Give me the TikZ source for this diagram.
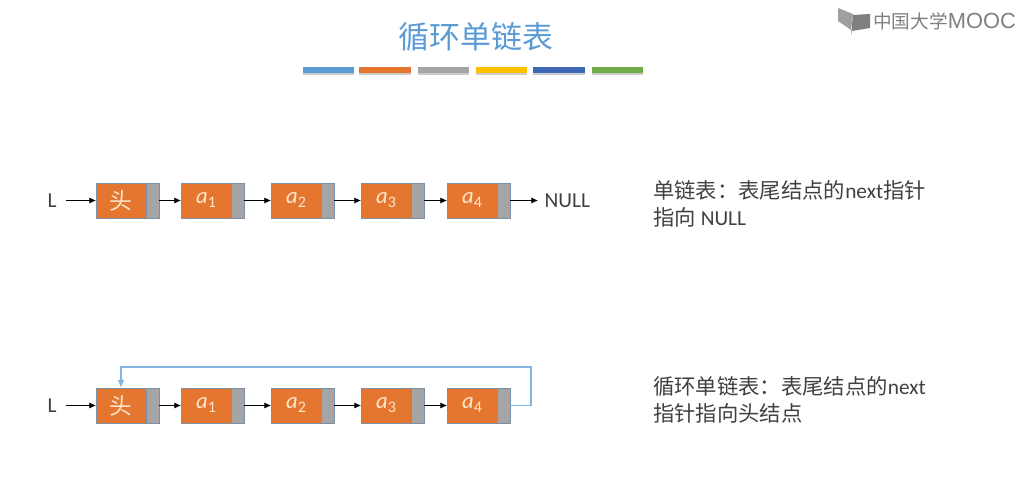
\documentclass[tikz,border=0pt]{standalone}
\usepackage{fontspec}
\setmainfont{Carlito}
\newfontfamily\cjk{Noto Sans CJK SC}
\newfontfamily\logofont{Liberation Sans}
\usetikzlibrary{arrows.meta,positioning,shadows}
\definecolor{nodeorange}{HTML}{E5762F}
\definecolor{ptrgray}{HTML}{A5A5A5}
\definecolor{edgeblue}{HTML}{7C8FA6}
\definecolor{titleblue}{HTML}{5B9BD5}
\definecolor{textgray}{HTML}{404040}
\definecolor{logogray}{HTML}{7F7F7F}
\definecolor{baryellow}{HTML}{FFC000}
\definecolor{barblue}{HTML}{4068B4}
\definecolor{bargreen}{HTML}{70AD47}
\newcommand{\elem}[1]{{\itshape a}\raisebox{-3pt}{\fontsize{12}{12}\selectfont #1}}
\tikzset{
  databox/.style={draw=edgeblue,fill=nodeorange,text=orange!20!white,minimum width=37.5pt,minimum height=26.25pt,inner sep=0pt,outer sep=0pt,font=\fontsize{17}{17}\selectfont},
  ptrbox/.style={draw=edgeblue,fill=ptrgray,minimum width=9.75pt,minimum height=26.25pt,inner sep=0pt,outer sep=0pt},
  nextarrow/.style={-{Latex[length=5pt,width=4.5pt]},black,line width=0.6pt},
  looparrow/.style={-{Latex[length=6pt,width=5pt]},titleblue!75,line width=0.8pt},
  plaintext/.style={text=textgray,inner sep=0pt,align=left,font=\fontsize{16}{20}\selectfont},
  colorbar/.style={minimum height=4.2pt,inner sep=0pt,outer sep=0pt,drop shadow={shadow xshift=0pt,shadow yshift=-1.5pt,opacity=.4}}
}
\begin{document}
\begin{tikzpicture}[>=latex,x=0.75pt,y=-0.75pt]
\useasboundingbox (0,0) rectangle (1021,491);

% title and bars
\node (title) at (476,37) [text=titleblue,inner sep=0pt,font=\cjk\fontsize{23.2}{24}\selectfont] {循环单链表};
\node (bar1) at (328.5,70) [colorbar,fill=titleblue,minimum width=38.25pt] {};
\node (bar2) [colorbar,fill=nodeorange,minimum width=39pt,right=3.75pt of bar1] {};
\node (bar3) [colorbar,fill=ptrgray,minimum width=38.25pt,right=5.25pt of bar2] {};
\node (bar4) [colorbar,fill=baryellow,minimum width=38.25pt,right=5.25pt of bar3] {};
\node (bar5) [colorbar,fill=barblue,minimum width=39pt,right=4.5pt of bar4] {};
\node (bar6) [colorbar,fill=bargreen,minimum width=38.25pt,right=5.25pt of bar5] {};

% logo
\fill[logogray!75] (838,8) -- (853,14) -- (851,30) -- (838,21) -- cycle;
\fill[logogray] (853,15) -- (870,14) -- (870,28) -- (852,31) -- (851,35) -- cycle;
\node (logo) at (873,21) [anchor=west,inner sep=0pt,text=logogray,font=\fontsize{14}{14}\selectfont] {{\cjk 中国大学}{\logofont\fontsize{16.4}{16}\selectfont MOOC}};

% upper list
\node (L1) at (52,200.5) [plaintext] {L};
\node (head1) at (121,200.5) [databox] {\cjk 头};
\node (hptr1) [ptrbox,right=0pt of head1] {};
\node (a1) [databox,right=16.5pt of hptr1] {\elem{1}};
\node (aptr1) [ptrbox,right=0pt of a1] {};
\node (a2) [databox,right=20.25pt of aptr1] {\elem{2}};
\node (aptr2) [ptrbox,right=0pt of a2] {};
\node (a3) [databox,right=20.25pt of aptr2] {\elem{3}};
\node (aptr3) [ptrbox,right=0pt of a3] {};
\node (a4) [databox,right=17.25pt of aptr3] {\elem{4}};
\node (aptr4) [ptrbox,right=0pt of a4] {};
\node (null) at (538,200.5) [plaintext,anchor=west,outer sep=5pt] {NULL};

\draw[nextarrow] (L1.east)+(9,0) -- (head1);
\draw[nextarrow] (hptr1) -- (a1);
\draw[nextarrow] (aptr1) -- (a2);
\draw[nextarrow] (aptr2) -- (a3);
\draw[nextarrow] (aptr3) -- (a4);
\draw[nextarrow] (aptr4) -- (null);

\node (note1) at (653,204) [plaintext,anchor=west] {{\cjk 单链表：表尾结点的}next{\cjk 指针}\\{\cjk 指向} NULL};

% lower list
\node (L2) at (52,405.5) [plaintext] {L};
\node (head2) at (121,405.5) [databox] {\cjk 头};
\node (hptr2) [ptrbox,right=0pt of head2] {};
\node (b1) [databox,right=16.5pt of hptr2] {\elem{1}};
\node (bptr1) [ptrbox,right=0pt of b1] {};
\node (b2) [databox,right=20.25pt of bptr1] {\elem{2}};
\node (bptr2) [ptrbox,right=0pt of b2] {};
\node (b3) [databox,right=20.25pt of bptr2] {\elem{3}};
\node (bptr3) [ptrbox,right=0pt of b3] {};
\node (b4) [databox,right=17.25pt of bptr3] {\elem{4}};
\node (bptr4) [ptrbox,right=0pt of b4] {};
\coordinate (loopc) at (531,367);

\draw[nextarrow] (L2.east)+(9,0) -- (head2);
\draw[nextarrow] (hptr2) -- (b1);
\draw[nextarrow] (bptr1) -- (b2);
\draw[nextarrow] (bptr2) -- (b3);
\draw[nextarrow] (bptr3) -- (b4);
\draw[looparrow] (bptr4.east) -| (loopc) -| (head2.north);

\node (note2) at (653,400) [plaintext,anchor=west] {{\cjk 循环单链表：表尾结点的}next\\{\cjk 指针指向头结点}};

\end{tikzpicture}
\end{document}
